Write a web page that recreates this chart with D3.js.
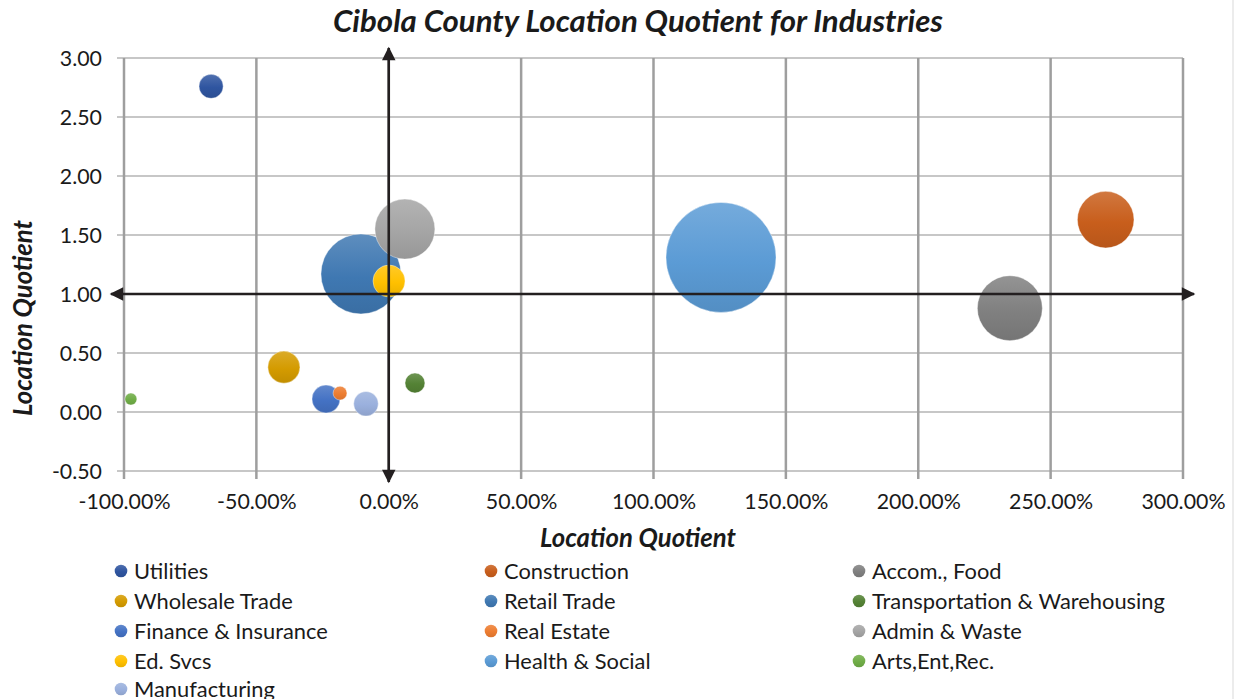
<!DOCTYPE html>
<html><head><meta charset="utf-8">
<script src="https://cdn.jsdelivr.net/npm/d3@7/dist/d3.min.js"></script>
<style>
html,body{margin:0;padding:0;background:#fff;}
svg{display:block;font-family:Lato,"Open Sans",sans-serif;}
</style></head>
<body>
<svg id="chart" width="1243" height="699"></svg>
<script>
// ---- data ----
const industries = ["Utilities","Construction","Accom., Food","Wholesale Trade","Retail Trade","Transportation & Warehousing","Finance & Insurance","Real Estate","Admin & Waste","Ed. Svcs","Health & Social","Arts,Ent,Rec.","Manufacturing"];
const growth = [-0.671, 2.708, 2.346, -0.396, -0.105, 0.099, -0.237, -0.184, 0.061, 0.001, 1.255, -0.974, -0.086];
const lq = [2.76, 1.63, 0.88, 0.38, 1.17, 0.246, 0.11, 0.16, 1.55, 1.11, 1.31, 0.11, 0.07];
const size = [4.8, 26.5, 34.9, 8.5, 52.9, 3.3, 6.5, 1.6, 29.8, 8.5, 100, 1.2, 5.0];
const colors = ["#2F55A0","#C85E1C","#808080","#D49B00","#3F78B2","#548235","#4472C4","#ED7D31","#A5A5A5","#FFC000","#5B9BD5","#70AD47","#9AB0DD"];
const xTicks = [-1, -0.5, 0, 0.5, 1, 1.5, 2, 2.5, 3];
const yTicks = [-0.5, 0, 0.5, 1, 1.5, 2, 2.5, 3];
const titleText = "Cibola County Location Quotient for Industries";
const xTitle = "Location Quotient";
const yTitle = "Location Quotient";

const svg = d3.select("#chart");
const x = d3.scaleLinear().domain([-1, 3]).range([124, 1183]);
const y = d3.scaleLinear().domain([-0.5, 3]).range([471, 58]);
const r = d3.scaleSqrt().domain([0, 100]).range([0, 55]);

function fit(sel, w) {
  const n = sel.node();
  const cur = n.getComputedTextLength();
  const fs = parseFloat(sel.attr("font-size"));
  sel.attr("font-size", (fs * w / cur).toFixed(2));
}
const hy = s => s.replace("\u2212", "-");

// defs: gradients
const defs = svg.append("defs");
colors.forEach((c, i) => {
  const g = defs.append("linearGradient").attr("id", "g" + i)
    .attr("x1", 0).attr("y1", 0).attr("x2", 0).attr("y2", 1);
  g.append("stop").attr("offset", "0%").attr("stop-color", d3.interpolateRgb(c, "#fff")(0.16));
  g.append("stop").attr("offset", "55%").attr("stop-color", c);
  g.append("stop").attr("offset", "100%").attr("stop-color", d3.rgb(c).darker(0.25));
});
defs.append("marker").attr("id", "ah").attr("viewBox", "0 0 10 10")
  .attr("refX", 9).attr("refY", 5).attr("markerWidth", 6.8).attr("markerHeight", 5.2)
  .attr("markerUnits", "strokeWidth").attr("orient", "auto-start-reverse")
  .append("path").attr("d", "M0,0 L10,5 L0,10 z").attr("fill", "#231F20");

// right chart border
svg.append("line").attr("x1", 1233).attr("x2", 1233).attr("y1", 0).attr("y2", 699)
  .attr("stroke", "#E6E6E6").attr("stroke-width", 1.5);

// gridlines
const grid = svg.append("g");
grid.selectAll("line.h").data(yTicks).join("line").attr("class", "h")
  .attr("x1", x(-1) - 7).attr("x2", x(3)).attr("y1", d => y(d)).attr("y2", d => y(d))
  .attr("stroke", "#B4B4B4").attr("stroke-width", 1.5);
grid.selectAll("line.v").data(xTicks).join("line").attr("class", "v")
  .attr("x1", d => x(d)).attr("x2", d => x(d)).attr("y1", y(3)).attr("y2", y(-0.5) + 8)
  .attr("stroke", "#9E9E9E").attr("stroke-width", 2.5);

// axes (labels via d3 axis)
const pf = d3.format(".2%"), ff = d3.format(".2f");
const xAxis = svg.append("g").attr("transform", `translate(0,${y(-0.5)})`)
  .call(d3.axisBottom(x).tickValues(xTicks).tickFormat(d => hy(pf(d))).tickSize(0).tickPadding(22));
const yAxis = svg.append("g").attr("transform", `translate(${x(-1) - 22},0)`)
  .call(d3.axisLeft(y).tickValues(yTicks).tickFormat(d => hy(ff(d))).tickSize(0).tickPadding(0));
[xAxis, yAxis].forEach(a => {
  a.select(".domain").remove();
  a.selectAll("text").attr("font-size", 19).attr("font-family", "Lato, sans-serif").attr("fill", "#1a1a1a");
});
xAxis.selectAll("text").attr("dy", "0.32em").attr("y", 31);
yAxis.selectAll("text").attr("dy", "0.35em");

// bubbles
const idx = d3.range(industries.length);
svg.append("g").selectAll("circle").data(idx).join("circle")
  .attr("cx", i => x(growth[i])).attr("cy", i => y(lq[i])).attr("r", i => r(size[i]))
  .attr("fill", i => `url(#g${i})`).attr("stroke", "#fff").attr("stroke-opacity", 0.5).attr("stroke-width", 0.8);

// quadrant arrows
const arr = svg.append("g").attr("stroke", "#231F20").attr("stroke-width", 2.6);
arr.append("line").attr("x1", x(-1) - 13).attr("x2", x(3) + 11).attr("y1", y(1)).attr("y2", y(1))
  .attr("marker-start", "url(#ah)").attr("marker-end", "url(#ah)");
arr.append("line").attr("x1", x(0)).attr("x2", x(0)).attr("y1", y(3) - 10).attr("y2", y(-0.5) + 11)
  .attr("marker-start", "url(#ah)").attr("marker-end", "url(#ah)");

// title
const t = svg.append("text").attr("x", 638).attr("y", 32).attr("text-anchor", "middle")
  .attr("font-size", 25).attr("font-weight", "bold").attr("font-style", "italic")
  .attr("fill", "#1a1a1a").text(titleText);
fit(t, 610);
const xt = svg.append("text").attr("x", 638).attr("y", 547).attr("text-anchor", "middle")
  .attr("font-size", 21).attr("font-weight", "bold").attr("font-style", "italic")
  .attr("fill", "#1a1a1a").text(xTitle);
fit(xt, 196);
const yt = svg.append("text").attr("transform", `translate(32,318) rotate(-90)`).attr("text-anchor", "middle")
  .attr("font-size", 21).attr("font-weight", "bold").attr("font-style", "italic")
  .attr("fill", "#1a1a1a").text(yTitle);
fit(yt, 196);

// legend
const colX = [121, 491, 859];
const rowY = [571, 601, 631, 661, 689];
const leg = svg.append("g").selectAll("g").data(idx).join("g")
  .attr("transform", i => `translate(${colX[i % 3]},${rowY[Math.floor(i / 3)]})`);
leg.append("circle").attr("r", 6.3).attr("fill", i => `url(#g${i})`);
leg.append("text").attr("x", 13).attr("dy", "0.35em").attr("font-size", 19)
  .attr("fill", "#1a1a1a").text(i => industries[i]);
const lt = leg.filter(i => i === 5).select("text");
const w0 = lt.node().getComputedTextLength();
const lfs = 19 * 293 / w0;
leg.selectAll("text").attr("font-size", lfs.toFixed(2));
// tick label sizing
const tl = xAxis.selectAll("text").filter(d => d === -1);
const tfs = 19 * 92 / tl.node().getComputedTextLength();
xAxis.selectAll("text").attr("font-size", tfs.toFixed(2));
yAxis.selectAll("text").attr("font-size", tfs.toFixed(2));
</script>
</body></html>
